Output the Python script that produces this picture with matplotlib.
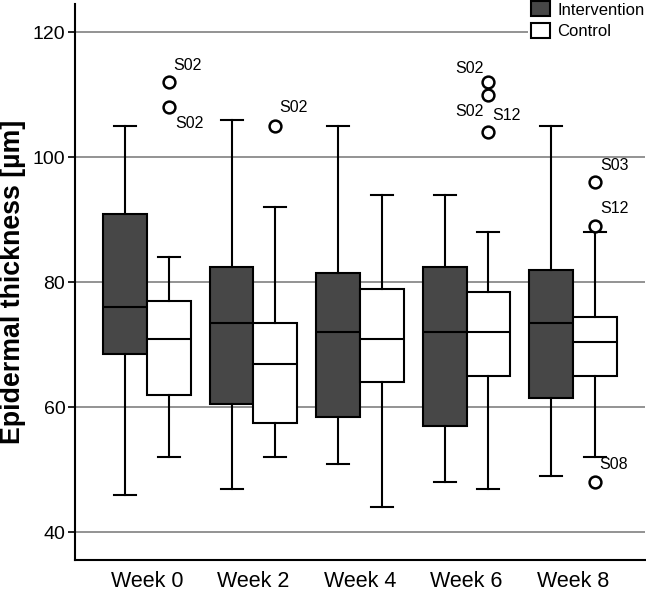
import matplotlib
matplotlib.use("Agg")
import matplotlib.pyplot as plt
from matplotlib.patches import Patch

plt.rcParams['font.family'] = ['Liberation Sans', 'DejaVu Sans']

weeks = ["Week 0", "Week 2", "Week 4", "Week 6", "Week 8"]

# Intervention box statistics
int_whislo = [46, 47, 51, 48, 49]
int_q1 = [68.5, 60.5, 58.5, 57, 61.5]
int_med = [76, 73.5, 72, 72, 73.5]
int_q3 = [91, 82.5, 81.5, 82.5, 82]
int_whishi = [105, 106, 105, 94, 105]

# Control box statistics
ctl_whislo = [52, 52, 44, 47, 52]
ctl_q1 = [62, 57.5, 64, 65, 65]
ctl_med = [71, 67, 71, 72, 70.5]
ctl_q3 = [77, 73.5, 79, 78.5, 74.5]
ctl_whishi = [84, 92, 94, 88, 88]

# Control outliers (week index, value, label)
out_week = [0, 0, 1, 3, 3, 3, 4, 4, 4]
out_value = [112, 108, 105, 112, 110, 104, 96, 89, 48]
out_label = ["S02", "S02", "S02", "S02", "S02", "S12", "S03", "S12", "S08"]
# label placement (pixel offsets, alignment)
out_offset = [(4, 17), (6, -16), (4, 18), (-5, 14), (-5, -17), (4, 17), (5, 17), (5, 18), (4, 18)]
out_ha = ["left", "left", "left", "right", "right", "left", "left", "left", "left"]

DARK = "#474747"
fig = plt.figure(figsize=(6.46, 5.91), dpi=100)
ax = fig.add_axes([75/646, 1-560/591, 570/646, 556/591])

w = 0.413
off = w/2

def stats(lo, q1, med, q3, hi, fl):
    return [dict(whislo=a, q1=b, med=c, q3=d, whishi=e, fliers=f)
            for a, b, c, d, e, f in zip(lo, q1, med, q3, hi, fl)]

int_stats = stats(int_whislo, int_q1, int_med, int_q3, int_whishi, [[]]*5)
ctl_fl = [[v for k, v in zip(out_week, out_value) if k == i] for i in range(5)]
ctl_stats = stats(ctl_whislo, ctl_q1, ctl_med, ctl_q3, ctl_whishi, ctl_fl)

lw = 1.5
common = dict(widths=w, patch_artist=True, showfliers=True,
              whiskerprops=dict(color="black", linewidth=lw),
              capprops=dict(color="black", linewidth=lw),
              medianprops=dict(color="black", linewidth=lw),
              flierprops=dict(marker="o", markersize=8.5, markerfacecolor="white",
                              markeredgecolor="black", markeredgewidth=1.8),
              capwidths=w/2)
ax.bxp(int_stats, positions=[i-off for i in range(5)],
       boxprops=dict(facecolor=DARK, edgecolor="black", linewidth=lw), **common)
ax.bxp(ctl_stats, positions=[i+off for i in range(5)],
       boxprops=dict(facecolor="white", edgecolor="black", linewidth=lw), **common)

for k, v, lab, (dx, dy), ha in zip(out_week, out_value, out_label, out_offset, out_ha):
    ax.annotate(lab, (k+off, v), xytext=(dx, dy), textcoords="offset pixels",
                ha=ha, va="center", fontsize=11.5)

ax.set_xlim(-0.676, 4.676)
ax.set_ylim(35.6, 124.5)
ax.set_yticks([40, 60, 80, 100, 120])
ax.set_xticks(range(5))
ax.set_xticklabels(weeks, fontsize=15.5)
ax.tick_params(axis="y", labelsize=14, length=5, width=1.2, pad=2)
ax.tick_params(axis="x", length=0, pad=8)
ax.yaxis.grid(True, color="#8a8a8a", linewidth=1.3)
ax.set_axisbelow(True)
for s in ["top", "right"]:
    ax.spines[s].set_visible(False)
for s in ["left", "bottom"]:
    ax.spines[s].set_linewidth(1.5)
ax.set_ylabel("Epidermal thickness [µm]", fontsize=19.3, fontweight="bold", labelpad=5)

handles = [Patch(facecolor=DARK, edgecolor="black", linewidth=1.5, label="Intervention"),
           Patch(facecolor="white", edgecolor="black", linewidth=1.5, label="Control")]
leg = fig.legend(handles=handles, loc="upper left", bbox_to_anchor=(528/646, 1+1/591),
                 frameon=True, fontsize=12, handlelength=1.15, handleheight=1.0,
                 handletextpad=0.45, labelspacing=0.32, borderpad=0.15, borderaxespad=0)
leg.get_frame().set_edgecolor("none")
leg.get_frame().set_facecolor("white")
leg.get_frame().set_alpha(1)

fig.savefig("out.png", dpi=100)
